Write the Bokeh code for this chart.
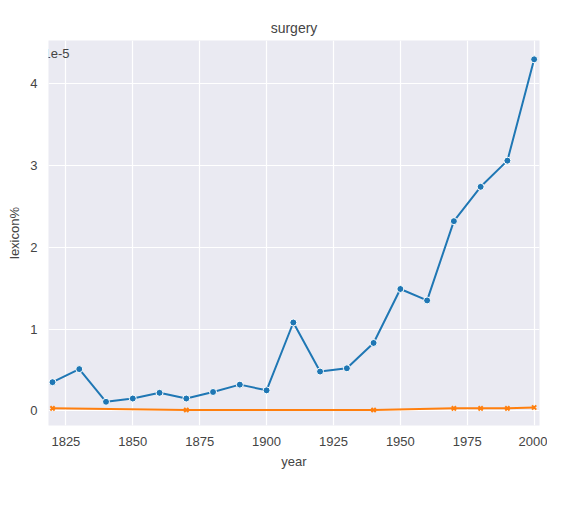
from bokeh.plotting import figure
from bokeh.models import Legend, CustomJSTickFormatter, Label, Range1d, FixedTicker
from bokeh.embed import file_html
from bokeh.resources import INLINE

years1 = [1820, 1830, 1840, 1850, 1860, 1870, 1880, 1890, 1900, 1910,
          1920, 1930, 1940, 1950, 1960, 1970, 1980, 1990, 2000]
noun1 = [0.35, 0.51, 0.11, 0.15, 0.22, 0.15, 0.23, 0.32, 0.25, 1.08,
         0.48, 0.52, 0.83, 1.49, 1.35, 2.32, 2.74, 3.06, 4.30]
years2 = [1820, 1870, 1940, 1970, 1980, 1990, 2000]
noun2 = [0.03, 0.01, 0.01, 0.03, 0.03, 0.03, 0.04]
scale = 1e-5
noun1 = [v * scale for v in noun1]
noun2 = [v * scale for v in noun2]

FONT = "Liberation Sans"
p = figure(width=547, height=499, output_backend="svg", toolbar_location=None,
           x_range=Range1d(1818.5, 2002), y_range=Range1d(-0.18e-5, 4.53e-5),
           x_axis_label="year", y_axis_label="lexicon%",
           min_border_left=48, min_border_right=8, min_border_top=40,
           min_border_bottom=74)
p.title.text = "surgery"
p.title.align = "center"
p.title.text_font = FONT
p.title.text_font_size = "14px"
p.title.text_font_style = "normal"
p.background_fill_color = "#EAEAF2"
p.border_fill_color = "white"
p.outline_line_color = None
p.grid.grid_line_color = "white"
p.grid.grid_line_width = 1.2
for ax in (p.xaxis, p.yaxis):
    ax.axis_line_color = None
    ax.major_tick_line_color = None
    ax.minor_tick_line_color = None
    ax.major_label_text_font = FONT
    ax.major_label_text_font_size = "13px"
    ax.axis_label_text_font = FONT
    ax.axis_label_text_font_size = "13px"
    ax.axis_label_text_font_style = "normal"
p.xaxis.ticker = FixedTicker(ticks=[1825, 1850, 1875, 1900, 1925, 1950, 1975, 2000])
p.yaxis.ticker = FixedTicker(ticks=[0, 1e-5, 2e-5, 3e-5, 4e-5])
p.yaxis.formatter = CustomJSTickFormatter(code="return (tick/1e-5).toFixed(0);")

r1 = p.line(years1, noun1, line_color="#1f77b4", line_width=2)
s1 = p.scatter(years1, noun1, marker="circle", size=7, fill_color="#1f77b4", line_color="white")
r2 = p.line(years2, noun2, line_color="#ff7f0e", line_width=2)
s2 = p.scatter(years2, noun2, marker="x", size=6, line_color="#ff7f0e", line_width=2)

p.add_layout(Label(x=-5, y=368, x_units="screen", y_units="screen", text="1e-5",
                   text_font=FONT, text_font_size="13px"))
legend = Legend(items=[("surgery_1_noun_1", [r1, s1]), ("surgery_1_noun_2", [r2, s2])],
                orientation="horizontal", location=(68, -80),
                label_text_font=FONT, label_text_font_size="13px",
                border_line_color="#cccccc", background_fill_color="#EAEAF2",
                spacing=30, padding=5, margin=0)
p.add_layout(legend, "center")

open("out.html", "w").write(file_html(p, INLINE))
